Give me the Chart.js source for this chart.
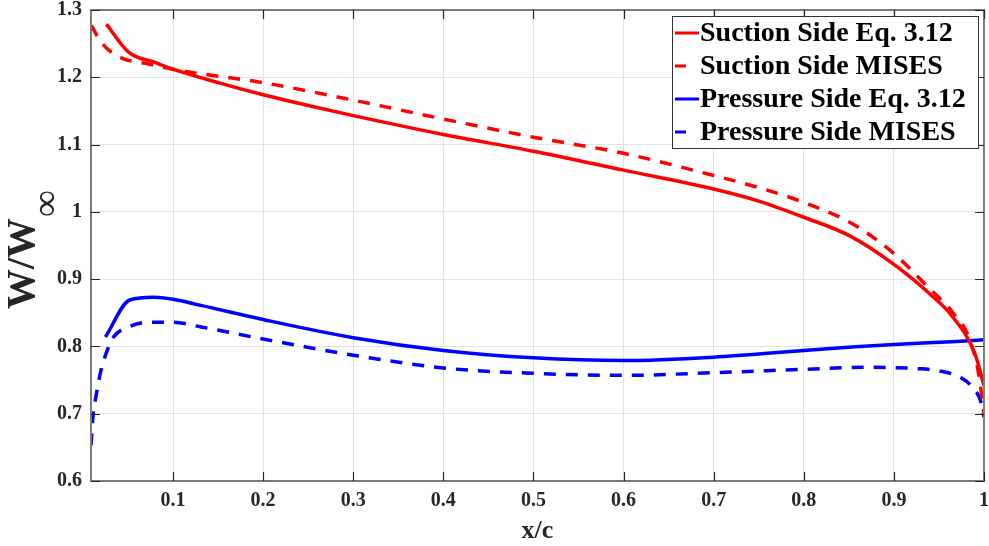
<!DOCTYPE html>
<html lang="en">
<head>
  <meta charset="UTF-8">
  <title>W/W∞ vs x/c</title>
  <script src="https://cdn.jsdelivr.net/npm/chart.js"></script>
  <style>
    body { margin: 0; background: #fff; }
    #wrap { width: 989px; height: 546px; }
  </style>
</head>
<body>
  <div id="wrap"><canvas id="chart" width="989" height="546"></canvas></div>

  <script>
    // series
    const xSuctionEq = [0.026, 0.051, 0.08, 0.1, 0.15, 0.2, 0.25, 0.3, 0.4, 0.5, 0.6, 0.7, 0.75, 0.8, 0.85, 0.9, 0.94, 0.964, 0.99, 1.0];
    const ySuctionEq = [1.279, 1.237, 1.222, 1.212, 1.192, 1.174, 1.158, 1.143, 1.115, 1.090, 1.062, 1.034, 1.016, 0.992, 0.965, 0.922, 0.878, 0.846, 0.789, 0.742];

    const xSuctionMises = [0.0093, 0.02, 0.029, 0.046, 0.068, 0.1, 0.127, 0.2, 0.3, 0.4, 0.5, 0.6, 0.7, 0.75, 0.8, 0.853, 0.9, 0.938, 0.968, 0.983, 0.994, 1.0];
    const ySuctionMises = [1.277, 1.253, 1.24, 1.227, 1.221, 1.212, 1.206, 1.192, 1.166, 1.138, 1.111, 1.087, 1.054, 1.036, 1.014, 0.983, 0.938, 0.888, 0.846, 0.814, 0.76, 0.70];

    const xPressureEq = [0.025, 0.052, 0.079, 0.1, 0.131, 0.2, 0.3, 0.4, 0.5, 0.6, 0.7, 0.8, 0.853, 0.9, 0.964, 1.0];
    const yPressureEq = [0.814, 0.869, 0.873, 0.870, 0.861, 0.840, 0.813, 0.794, 0.783, 0.779, 0.784, 0.794, 0.799, 0.803, 0.807, 0.810];

    const xPressureMises = [0.009, 0.0116, 0.014, 0.02, 0.027, 0.034, 0.051, 0.072, 0.1, 0.131, 0.2, 0.3, 0.4, 0.5, 0.6, 0.7, 0.8, 0.864, 0.927, 0.949, 0.975, 0.99, 0.996, 1.0];
    const yPressureMises = [0.653, 0.703, 0.722, 0.764, 0.794, 0.814, 0.829, 0.836, 0.836, 0.829, 0.811, 0.787, 0.768, 0.760, 0.757, 0.761, 0.766, 0.769, 0.767, 0.764, 0.753, 0.735, 0.72, 0.695];

    const xTicks = [0.1, 0.2, 0.3, 0.4, 0.5, 0.6, 0.7, 0.8, 0.9, 1];
    const yTicks = [0.6, 0.7, 0.8, 0.9, 1, 1.1, 1.2, 1.3];
    const xTickLabels = ['0.1', '0.2', '0.3', '0.4', '0.5', '0.6', '0.7', '0.8', '0.9', '1'];
    const yTickLabels = ['0.6', '0.7', '0.8', '0.9', '1', '1.1', '1.2', '1.3'];

    const FONT = '"Liberation Serif", "Times New Roman", serif';
    const TXT = '#262626';

    function pts(xs, ys) {
      return xs.map((x, i) => ({ x: x, y: ys[i] }));
    }

    function line(label, xs, ys, color, dashed) {
      return {
        label: label,
        data: pts(xs, ys),
        borderColor: color,
        backgroundColor: color,
        borderWidth: 3.5,
        borderDash: dashed ? [12, 10] : [],
        pointRadius: 0,
        cubicInterpolationMode: 'monotone',
        fill: false
      };
    }

    // frame, inward ticks, titles, legend box
    const extras = {
      id: 'extras',
      afterDraw(chart) {
        const c = chart.ctx;
        const a = chart.chartArea;
        const sx = chart.scales.x, sy = chart.scales.y;
        c.save();

        c.strokeStyle = '#7a7a7a';
        c.lineWidth = 2;
        c.strokeRect(a.left, a.top, a.right - a.left, a.bottom - a.top);

        c.strokeStyle = TXT;
        c.lineWidth = 1.2;
        c.beginPath();
        xTicks.forEach(v => {
          const px = Math.round(sx.getPixelForValue(v)) + 0.5;
          c.moveTo(px, a.bottom); c.lineTo(px, a.bottom - 9);
          c.moveTo(px, a.top); c.lineTo(px, a.top + 9);
        });
        yTicks.forEach(v => {
          const py = Math.round(sy.getPixelForValue(v)) + 0.5;
          c.moveTo(a.left, py); c.lineTo(a.left + 9, py);
          c.moveTo(a.right, py); c.lineTo(a.right - 9, py);
        });
        c.stroke();

        // x title
        c.fillStyle = TXT;
        c.font = 'bold 26px ' + FONT;
        c.textAlign = 'center';
        c.textBaseline = 'alphabetic';
        c.fillText('x/c', (a.left + a.right) / 2, 538);

        // y title W/W with infinity subscript
        c.translate(34, 250);
        c.rotate(-Math.PI / 2);
        c.font = 'bold 40px ' + FONT;
        const main = 'W/W';
        const w1 = c.measureText(main).width;
        c.font = '38px ' + FONT;
        const w2 = c.measureText('∞').width;
        const start = -(w1 + w2) / 2;
        c.textAlign = 'left';
        c.font = 'bold 40px ' + FONT;
        c.fillText(main, start, 0);
        c.font = '38px ' + FONT;
        c.fillText('∞', start + w1 + 1, 24);
        c.restore();

        // legend
        c.save();
        const bx = 672, by = 16, bw = 306, bh = 132;
        c.fillStyle = '#fff';
        c.fillRect(bx, by, bw, bh);
        c.strokeStyle = '#333';
        c.lineWidth = 1;
        c.strokeRect(bx + 0.5, by + 0.5, bw, bh);
        c.font = 'bold 28px ' + FONT;
        c.textBaseline = 'middle';
        c.textAlign = 'left';
        chart.data.datasets.forEach((ds, i) => {
          const yy = 33 + i * 33;
          c.strokeStyle = ds.borderColor;
          c.lineWidth = 3;
          c.beginPath();
          c.moveTo(675, yy);
          c.lineTo(ds.borderDash.length ? 686 : 699, yy);
          c.stroke();
          c.fillStyle = '#000';
          c.fillText(ds.label, 700, yy + 1);
        });
        c.restore();
      }
    };

    new Chart(document.getElementById('chart').getContext('2d'), {
      type: 'line',
      data: {
        datasets: [
          line('Suction Side Eq. 3.12', xSuctionEq, ySuctionEq, '#ff0000', false),
          line('Suction Side MISES', xSuctionMises, ySuctionMises, '#ff0000', true),
          line('Pressure Side Eq. 3.12', xPressureEq, yPressureEq, '#0000ff', false),
          line('Pressure Side MISES', xPressureMises, yPressureMises, '#0000ff', true)
        ]
      },
      options: {
        responsive: false,
        animation: false,
        layout: { padding: { top: 10, right: 5, left: 0, bottom: 0 } },
        plugins: { legend: { display: false }, tooltip: { enabled: false } },
        scales: {
          x: {
            type: 'linear',
            min: 0.009,
            max: 1,
            afterBuildTicks: s => { s.ticks = xTicks.map(v => ({ value: v })); },
            afterFit: s => { s.height = 65; s.paddingLeft = 0; s.paddingRight = 0; },
            grid: { color: '#e3e3e3', lineWidth: 1, drawTicks: false },
            border: { display: false },
            ticks: {
              padding: 8,
              color: TXT,
              maxRotation: 0,
              font: { family: FONT, size: 20, weight: 'bold' },
              callback: (v) => xTickLabels[xTicks.indexOf(v)] ?? ''
            }
          },
          y: {
            type: 'linear',
            min: 0.6,
            max: 1.3,
            afterBuildTicks: s => { s.ticks = yTicks.map(v => ({ value: v })); },
            afterFit: s => { s.width = 91; s.paddingTop = 0; s.paddingBottom = 0; },
            grid: { color: '#e3e3e3', lineWidth: 1, drawTicks: false },
            border: { display: false },
            ticks: {
              padding: 9,
              color: TXT,
              font: { family: FONT, size: 20, weight: 'bold' },
              callback: (v) => yTickLabels[yTicks.indexOf(v)] ?? ''
            }
          }
        }
      },
      plugins: [extras]
    });
  </script>
</body>
</html>
